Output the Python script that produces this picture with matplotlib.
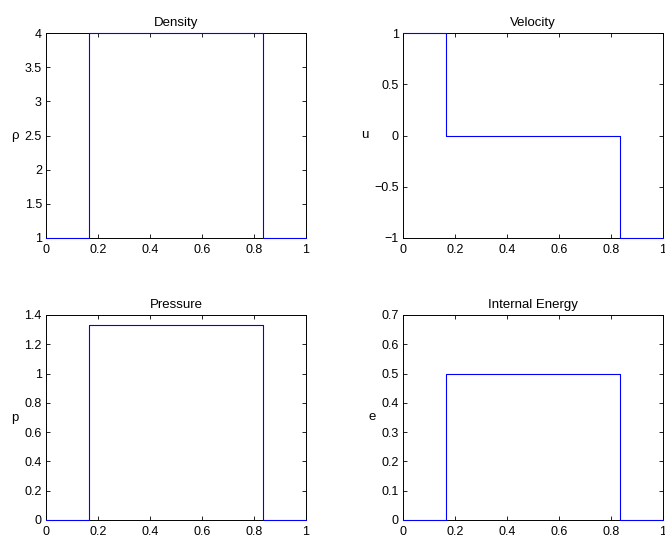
import matplotlib
matplotlib.use("Agg")
import matplotlib.pyplot as plt
from matplotlib.ticker import FuncFormatter, MultipleLocator

plt.rcParams['font.family'] = ['Liberation Sans', 'DejaVu Sans']

# Data: piecewise-constant states separated by two shocks
x_edges = [0.0, 0.1667, 0.8333, 1.0]
density = [1.0, 4.0, 1.0]
velocity = [1.0, 0.0, -1.0]
pressure = [0.0, 1.3333, 0.0]
energy = [0.0, 0.5, 0.0]

titles = ["Density", "Velocity", "Pressure", "Internal Energy"]
ylabels = ["ρ", "u", "p", "e"]
series = [density, velocity, pressure, energy]
ylims = [(1, 4), (-1, 1), (0, 1.4), (0, 0.7)]
ysteps = [0.5, 0.5, 0.2, 0.1]

W, H = 665, 541
fig = plt.figure(figsize=(W / 100, H / 100), dpi=100)

# axes rectangles in pixels: (left, top, right, bottom)
rects = [(46, 33, 306, 238), (403, 33, 663, 238),
         (46, 315, 306, 520), (403, 315, 663, 520)]
label_x = [-0.119, -0.146, -0.119, -0.119]

fmt = FuncFormatter(lambda v, p: f"{v:g}".replace("-", "\u2212"))

for i in range(4):
    l, t, r, b = rects[i]
    ax = fig.add_axes([l / W, 1 - b / H, (r - l) / W, (b - t) / H])
    vals = list(series[i]) + [series[i][-1]]
    ax.plot(x_edges, vals, drawstyle='steps-post', color=(0, 0, 1),
            linewidth=0.8, zorder=3, clip_on=False)
    ax.set_xlim(0, 1)
    ax.set_ylim(*ylims[i])
    ax.xaxis.set_major_locator(MultipleLocator(0.2))
    ax.yaxis.set_major_locator(MultipleLocator(ysteps[i]))
    ax.xaxis.set_major_formatter(fmt)
    ax.yaxis.set_major_formatter(fmt)
    ax.tick_params(direction='in', length=3, width=0.6, labelsize=9,
                   top=True, right=True, colors='black')
    ax.tick_params(axis='x', pad=4)
    ax.tick_params(axis='y', pad=3)
    for s in ax.spines.values():
        s.set_linewidth(0.7)
    ax.set_title(titles[i], fontsize=9.5, pad=5)
    ax.set_ylabel(ylabels[i], rotation=0, fontsize=9.5, va='center', ha='center')
    ax.yaxis.set_label_coords(label_x[i], 0.5)

fig.savefig("out.png", dpi=100)
